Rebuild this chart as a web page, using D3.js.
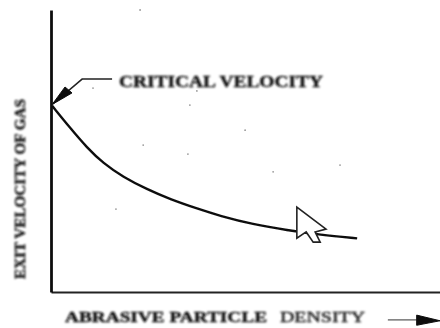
<!DOCTYPE html>
<html>
<head>
<meta charset="utf-8">
<script src="https://cdn.jsdelivr.net/npm/d3@7"></script>
<style>
  html, body { margin: 0; padding: 0; background: #fff; }
  svg { display: block; }
  text { font-family: "Liberation Serif", serif; font-weight: bold; fill: #111; stroke: #111; stroke-width: 0.4; }
</style>
</head>
<body>
<svg id="chart" width="440" height="328"></svg>
<script>
// values, both axes are unlabelled so 0-100 is arbitrary
const density = [0.3, 4.9, 9.3, 13.4, 18.5, 24.7, 30.6, 37.5, 43.4, 51.9, 60.7, 69.2, 78.7];
const velocity = [66, 58.2, 51.1, 45.7, 40.8, 36.4, 32.9, 29.6, 27, 24, 21.9, 20.3, 19];

// hand-drawn leader from the label to the start of the curve
const leaderX = [15.7, 8, 0.3];
const leaderY = [75.5, 75.5, 66.5];
const arrowHeadX = [0.3, 3.6, 5.4];
const arrowHeadY = [66.5, 72.7, 70.6];

// mouse pointer captured in the scan
const cursorX = [63.2, 63.2, 65.6, 67.4, 69.2, 67.9, 70.7];
const cursorY = [30.1, 19.1, 21.3, 17.7, 17.7, 21.3, 22.3];

// arrow after the axis label
const axisArrowX = [86.6, 94];
const axisArrowY = [-9.9, -9.9];
const axisHeadX = [94, 94, 100];
const axisHeadY = [-8.2, -11.8, -10.2];

// dust specks on the scan
const speckX = [22.9, 10.8, 37.5, 35.7, 49.9, 23.7, 35.2, 16.7, 57.1, 74.3];
const speckY = [100, 72.3, 71.3, 66.3, 57.4, 52.1, 48.9, 29.4, 42.6, 45];

const svg = d3.select("#chart"),
      width = +svg.attr("width"),
      height = +svg.attr("height"),
      margin = {top: 10, right: 0, bottom: 36, left: 51};

const x = d3.scaleLinear().domain([0, 100]).range([margin.left, width - margin.right]);
const y = d3.scaleLinear().domain([0, 100]).range([height - margin.bottom, margin.top]);

const defs = svg.append("defs");
defs.append("filter").attr("id", "scan")
  .attr("filterUnits", "userSpaceOnUse")
  .attr("x", 0).attr("y", 0).attr("width", width).attr("height", height)
  .append("feGaussianBlur").attr("stdDeviation", 0.7);
defs.append("filter").attr("id", "scanText")
  .attr("filterUnits", "userSpaceOnUse")
  .attr("x", 0).attr("y", 0).attr("width", width).attr("height", height)
  .append("feGaussianBlur").attr("stdDeviation", 0.8);

const g = svg.append("g").attr("filter", "url(#scan)");
const gText = svg.append("g").attr("filter", "url(#scanText)");

const line = d3.line().x(d => x(d[0])).y(d => y(d[1]));
const pairs = (a, b) => a.map((d, i) => [d, b[i]]);

// speck marks
g.selectAll("circle.speck")
  .data(pairs(speckX, speckY))
  .enter().append("circle")
  .attr("class", "speck")
  .attr("cx", d => x(d[0]))
  .attr("cy", d => y(d[1]))
  .attr("r", 0.9)
  .attr("fill", "#999");

// axes, no ticks in the original
const axisX = d3.axisBottom(x).tickValues([]).tickSizeOuter(0);
const axisY = d3.axisLeft(y).tickValues([]).tickSizeOuter(0);

g.append("g").attr("transform", `translate(0,${y(0)})`).call(axisX)
  .select(".domain").attr("stroke", "#222").attr("stroke-width", 2);
g.append("g").attr("transform", `translate(${x(0)},0)`).call(axisY)
  .select(".domain").attr("stroke", "#111").attr("stroke-width", 2.8);

// curve
g.append("path")
  .attr("d", d3.line().x(d => x(d[0])).y(d => y(d[1])).curve(d3.curveBasis)(pairs(density, velocity)))
  .attr("fill", "none")
  .attr("stroke", "#111")
  .attr("stroke-width", 2.4);

// leader
g.append("path")
  .attr("d", line(pairs(leaderX, leaderY)))
  .attr("fill", "none")
  .attr("stroke", "#222")
  .attr("stroke-width", 1.5);
g.append("path")
  .attr("d", line(pairs(arrowHeadX, arrowHeadY)) + "Z")
  .attr("fill", "#111")
  .attr("stroke", "#111");

// cursor
g.append("path")
  .attr("d", line(pairs(cursorX, cursorY)) + "Z")
  .attr("fill", "#fff")
  .attr("stroke", "#222")
  .attr("stroke-width", 1.6);

// axis arrow
g.append("path")
  .attr("d", line(pairs(axisArrowX, axisArrowY)))
  .attr("stroke", "#333")
  .attr("stroke-width", 1);
g.append("path")
  .attr("d", line(pairs(axisHeadX, axisHeadY)) + "Z")
  .attr("fill", "#111")
  .attr("stroke", "#111");

// labels
gText.append("text")
  .attr("x", 119).attr("y", 86.5)
  .attr("font-size", 16)
  .attr("textLength", 204).attr("lengthAdjust", "spacingAndGlyphs")
  .text("CRITICAL VELOCITY");
gText.append("text")
  .attr("x", 65).attr("y", 322)
  .attr("font-size", 15.5)
  .attr("textLength", 202).attr("lengthAdjust", "spacingAndGlyphs")
  .text("ABRASIVE PARTICLE");
gText.append("text")
  .attr("x", 280).attr("y", 322)
  .attr("font-size", 15)
  .attr("textLength", 85).attr("lengthAdjust", "spacingAndGlyphs")
  .style("font-weight", "normal")
  .text("DENSITY");
gText.append("text")
  .attr("transform", "translate(25,279) rotate(-90)")
  .attr("font-size", 15.5)
  .attr("textLength", 180).attr("lengthAdjust", "spacingAndGlyphs")
  .text("EXIT VELOCITY OF GAS");
</script>
</body>
</html>
